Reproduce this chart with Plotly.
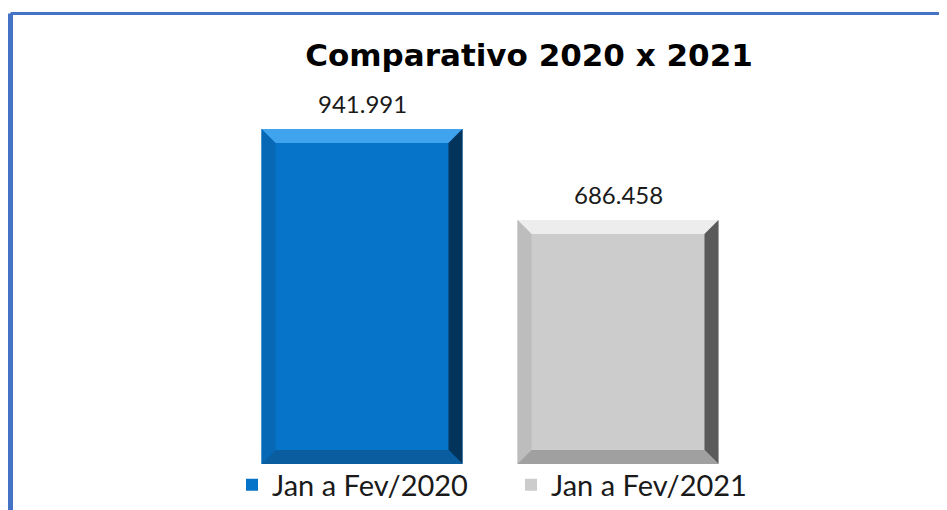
import plotly.graph_objects as go

# ---- data ----
categories = ["Jan a Fev/2020", "Jan a Fev/2021"]
values = [941991, 686458]
title_text = "Comparativo 2020 x 2021"

# ---- style ----
OFF = 8                      # page body margin in the browser
EXTRA_H = 24                 # room below the window so the legend can sit low
W, H = 947 - OFF, 510 - OFF + EXTRA_H
# target pixel positions (window coordinates)
plot_left, plot_right = 234, 746
plot_top, plot_bottom = 91, 464
ML = plot_left - OFF
MR = (W + OFF) - plot_right
MT = plot_top - OFF
MB = (H + OFF) - plot_bottom

bar_colors = ["#0675C9", "#CCCCCC"]
bevel_top = ["#3FA3EE", "#EDEDED"]
bevel_left = ["#0769B6", "#BDBDBD"]
bevel_right = ["#03355C", "#5A5A5A"]
bevel_bottom = ["#0A5EA0", "#A0A0A0"]
frame_color = "#4472C4"
font_family = "Lato, 'Open Sans', sans-serif"
title_family = "'DejaVu Sans', sans-serif"
bar_width = 0.785
y_max = 1048848

plot_w = plot_right - plot_left
plot_h = plot_bottom - plot_top
px_x = 1.0 / (plot_w / len(categories))   # category units per pixel
px_y = y_max / plot_h                      # data units per pixel
bevel_px = 14

fig = go.Figure()
for i, (cat, val) in enumerate(zip(categories, values)):
    fig.add_trace(go.Bar(
        x=[cat], y=[val], name=cat, width=bar_width,
        marker=dict(color=bar_colors[i], line=dict(width=0)),
        showlegend=True, hoverinfo="skip",
    ))

def path(pts):
    return "M " + " L ".join(f"{x},{y}" for x, y in pts) + " Z"

shapes = []
annotations = []
for i, val in enumerate(values):
    hw = bar_width / 2
    x0, x1 = i - hw, i + hw
    bx = bevel_px * px_x
    by = bevel_px * px_y
    shapes.append(dict(type="path", xref="x", yref="y", layer="above",
                       path=path([(x0, val), (x1, val), (x1 - bx, val - by), (x0 + bx, val - by)]),
                       fillcolor=bevel_top[i], line=dict(width=0)))
    shapes.append(dict(type="path", xref="x", yref="y", layer="above",
                       path=path([(x0, val), (x0 + bx, val - by), (x0 + bx, by), (x0, 0)]),
                       fillcolor=bevel_left[i], line=dict(width=0)))
    shapes.append(dict(type="path", xref="x", yref="y", layer="above",
                       path=path([(x1, val), (x1, 0), (x1 - bx, by), (x1 - bx, val - by)]),
                       fillcolor=bevel_right[i], line=dict(width=0)))
    shapes.append(dict(type="path", xref="x", yref="y", layer="above",
                       path=path([(x0, 0), (x1, 0), (x1 - bx, by), (x0 + bx, by)]),
                       fillcolor=bevel_bottom[i], line=dict(width=0)))
    annotations.append(dict(x=categories[i], y=val, xref="x", yref="y",
                            text=f"{val:,}".replace(",", "."), showarrow=False,
                            yanchor="bottom", yshift=9,
                            font=dict(family=font_family, size=24, color="#1a1a1a")))

# outer frame (left/top edges visible)
frame_left_px, frame_top_px = 10.5, 13.5
fx = (frame_left_px - plot_left) / plot_w
fy = (plot_bottom - frame_top_px) / plot_h
shapes.append(dict(type="line", xref="paper", yref="paper", x0=fx, x1=fx, y0=fy, y1=-1,
                   line=dict(color=frame_color, width=5)))
shapes.append(dict(type="line", xref="paper", yref="paper", x0=fx, x1=3, y0=fy, y1=fy,
                   line=dict(color=frame_color, width=3)))

fig.update_layout(
    width=W, height=H,
    margin=dict(l=ML, r=MR, t=MT, b=MB, pad=0),
    paper_bgcolor="white", plot_bgcolor="white",
    barmode="overlay",
    title=dict(text=f"<b>{title_text}</b>", x=(529 - OFF) / W, xanchor="center",
               y=1 - (55 - OFF) / H, yanchor="middle", xref="container", yref="container",
               font=dict(family=title_family, size=31, color="black")),
    xaxis=dict(visible=False, range=[-0.5, 1.5]),
    yaxis=dict(visible=False, range=[0, y_max]),
    legend=dict(orientation="h", x=(232 - plot_left) / plot_w, xanchor="left",
                y=-(485 - plot_bottom) / plot_h, yanchor="middle",
                font=dict(family=font_family, size=29, color="#1a1a1a"),
                itemwidth=30, entrywidth=234, entrywidthmode="pixels",
                tracegroupgap=0, borderwidth=0,
                bgcolor="rgba(0,0,0,0)"),
    shapes=shapes, annotations=annotations,
    showlegend=True,
)

fig.write_html("out.html")
